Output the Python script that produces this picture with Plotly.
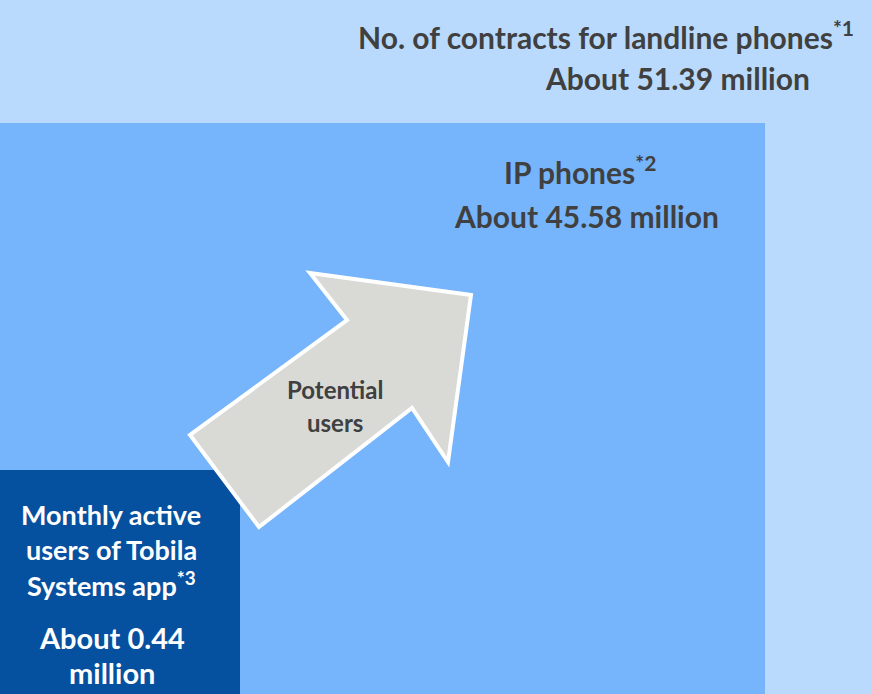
import plotly.graph_objects as go

# Market segments, from the broadest to the narrowest
segments = ["Landline phone contracts", "IP phones", "Tobila Systems app MAU"]
values_million = [51.39, 45.58, 0.44]
notes = ["*1", "*2", "*3"]
headings = ["No. of contracts for landline phones", "IP phones",
            "Monthly active<br>users of Tobila<br>Systems app"]
arrow_label = "Potential<br>users"

W, H = 872, 694
FONT = "Lato"
DARK = "#404040"

# Nested boxes anchored at the lower-left corner: (x1, y0) in pixel space
boxes = [(872, 0), (765, 123), (240, 470)]
box_colors = ["#b9dafd", "#76b5fb", "#0650a0"]

fig = go.Figure()
fig.add_trace(go.Scatter(x=[0, W], y=[0, H], mode="markers",
                         marker=dict(opacity=0), hoverinfo="skip", showlegend=False))

for (x1, y0), col in zip(boxes, box_colors):
    fig.add_shape(type="rect", xref="x", yref="y", x0=0, x1=x1, y0=y0, y1=H,
                  fillcolor=col, line=dict(width=0), layer="below")

# Arrow pointing from the app users towards the wider market
arrow_pts = [(310, 273), (471, 295), (448, 462), (412, 408),
             (259, 527), (190, 435), (347, 320)]
path = "M " + " L ".join(f"{x},{y}" for x, y in arrow_pts) + " Z"
fig.add_shape(type="path", xref="x", yref="y", path=path,
              fillcolor="#d9dad6", line=dict(color="white", width=4))

def label(text, x, y, size, color=DARK, xanchor="center"):
    fig.add_annotation(x=x, y=y, xref="x", yref="y", text=text,
                       showarrow=False, xanchor=xanchor, yanchor="middle",
                       font=dict(family=FONT, size=size, color=color, weight="bold"))

def amount(v):
    return f"About {v:.2f} million"

# Landline contracts
label(f"{headings[0]}<sup>{notes[0]}</sup>", 606, 35, 30)
label(amount(values_million[0]), 677, 78, 30)
# IP phones
label(f"{headings[1]}<sup>{notes[1]}</sup>", 580, 170, 30)
label(amount(values_million[1]), 586, 216, 30)
# App users
lines = headings[2].split("<br>")
label(lines[0], 111, 514, 27, "white")
label(lines[1], 111, 549, 27, "white")
label(f"{lines[2]}<sup>{notes[2]}</sup>", 111, 584, 27, "white")
label(f"About {values_million[2]:.2f}", 112, 637, 29, "white")
label("million", 112, 672, 29, "white")
# Arrow text
pl = arrow_label.split("<br>")
label(pl[0], 335, 389, 24)
label(pl[1], 335, 422, 24)

fig.update_xaxes(range=[0, W], visible=False, fixedrange=True)
fig.update_yaxes(range=[H, 0], visible=False, fixedrange=True)
fig.update_layout(width=W, height=H, margin=dict(l=0, r=0, t=0, b=0),
                  paper_bgcolor="white", plot_bgcolor="white", showlegend=False)

fig.write_html("out.html")
